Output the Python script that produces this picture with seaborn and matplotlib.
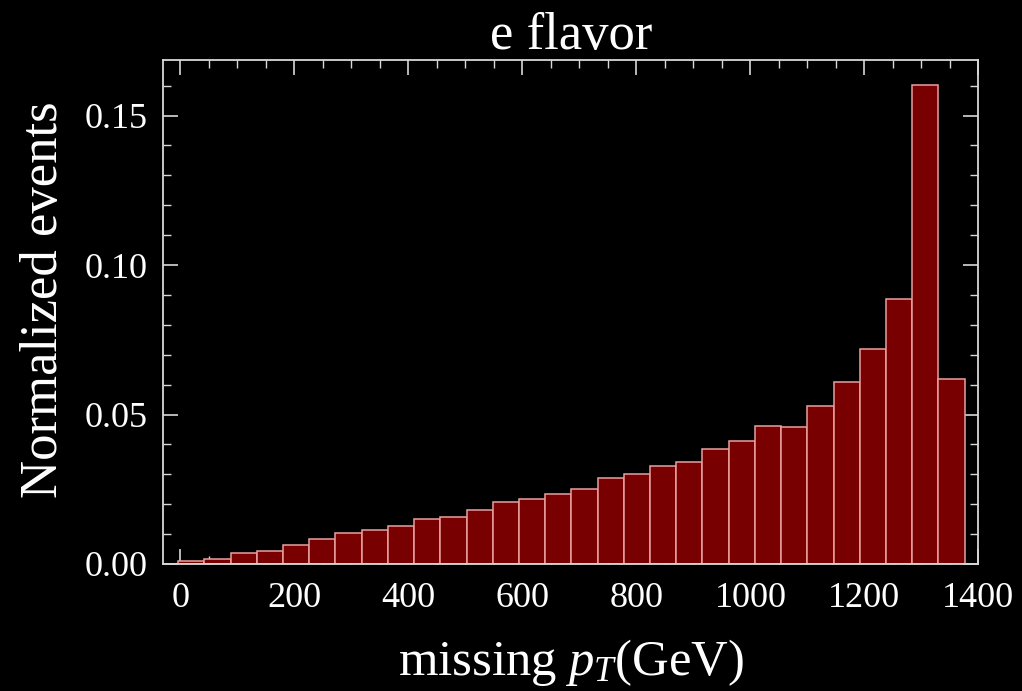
import numpy as np
import pandas as pd
import matplotlib
matplotlib.use("Agg")
import matplotlib.pyplot as plt
import seaborn as sns
from matplotlib.ticker import MultipleLocator

# bin edges (GeV) and normalized fraction of events per bin
bin_edges = [-4 + 46 * i for i in range(31)]
fractions = [0.0011, 0.0017, 0.0038, 0.0042, 0.0065, 0.0083, 0.0105, 0.0114,
             0.0128, 0.0150, 0.0158, 0.0181, 0.0207, 0.0216, 0.0234, 0.0252,
             0.0288, 0.0301, 0.0328, 0.0341, 0.0386, 0.0413, 0.0462, 0.0457,
             0.0529, 0.0609, 0.0720, 0.0886, 0.1603, 0.0618]

centers = [(bin_edges[i] + bin_edges[i + 1]) / 2 for i in range(len(fractions))]
df = pd.DataFrame({"pt": centers, "w": fractions})

sns.set_style("dark")
plt.rcParams['font.family'] = ['Liberation Serif', 'DejaVu Serif']
plt.rcParams['mathtext.fontset'] = 'custom'
plt.rcParams['mathtext.rm'] = 'Liberation Serif'
plt.rcParams['mathtext.it'] = 'Liberation Serif:italic'

fg = '#d8d8d8'
fig = plt.figure(figsize=(10.22, 6.91), dpi=100, facecolor='black')
ax = fig.add_axes([0.1598, 0.1838, 0.7975, 0.7294])
ax.set_facecolor('black')

sns.histplot(data=df, x="pt", weights="w", bins=bin_edges, stat="count",
             color='#780000', edgecolor='#eaa0a0', linewidth=1.1, alpha=1.0,
             ax=ax)

ax.set_xlim(-30, 1400)
ax.set_ylim(0, 0.1686)
ax.xaxis.set_major_locator(MultipleLocator(200))
ax.xaxis.set_minor_locator(MultipleLocator(50))
ax.yaxis.set_major_locator(MultipleLocator(0.05))
ax.yaxis.set_minor_locator(MultipleLocator(0.01))
ax.yaxis.set_major_formatter(matplotlib.ticker.FormatStrFormatter('%.2f'))

ax.tick_params(which='both', direction='in', top=True, right=True,
               bottom=True, left=True, colors=fg, labelcolor='white',
               labelsize=26)
ax.tick_params(which='major', length=11, width=1.2)
ax.tick_params(which='minor', length=6, width=1.0)
ax.tick_params(axis='x', which='major', pad=13)
ax.tick_params(axis='y', which='major', pad=11)
for s in ax.spines.values():
    s.set_color(fg)
    s.set_linewidth(1.3)
ax.grid(False)

ax.set_title('e flavor', color='white', fontsize=38, pad=4)
ax.set_xlabel('missing $p_T$(GeV)', color='white', fontsize=36.5, labelpad=16)
ax.set_ylabel('Normalized events', color='white', fontsize=38, labelpad=12)
ax.yaxis.label.set_y(0.525)

fig.savefig('out.png', dpi=100, facecolor='black')
